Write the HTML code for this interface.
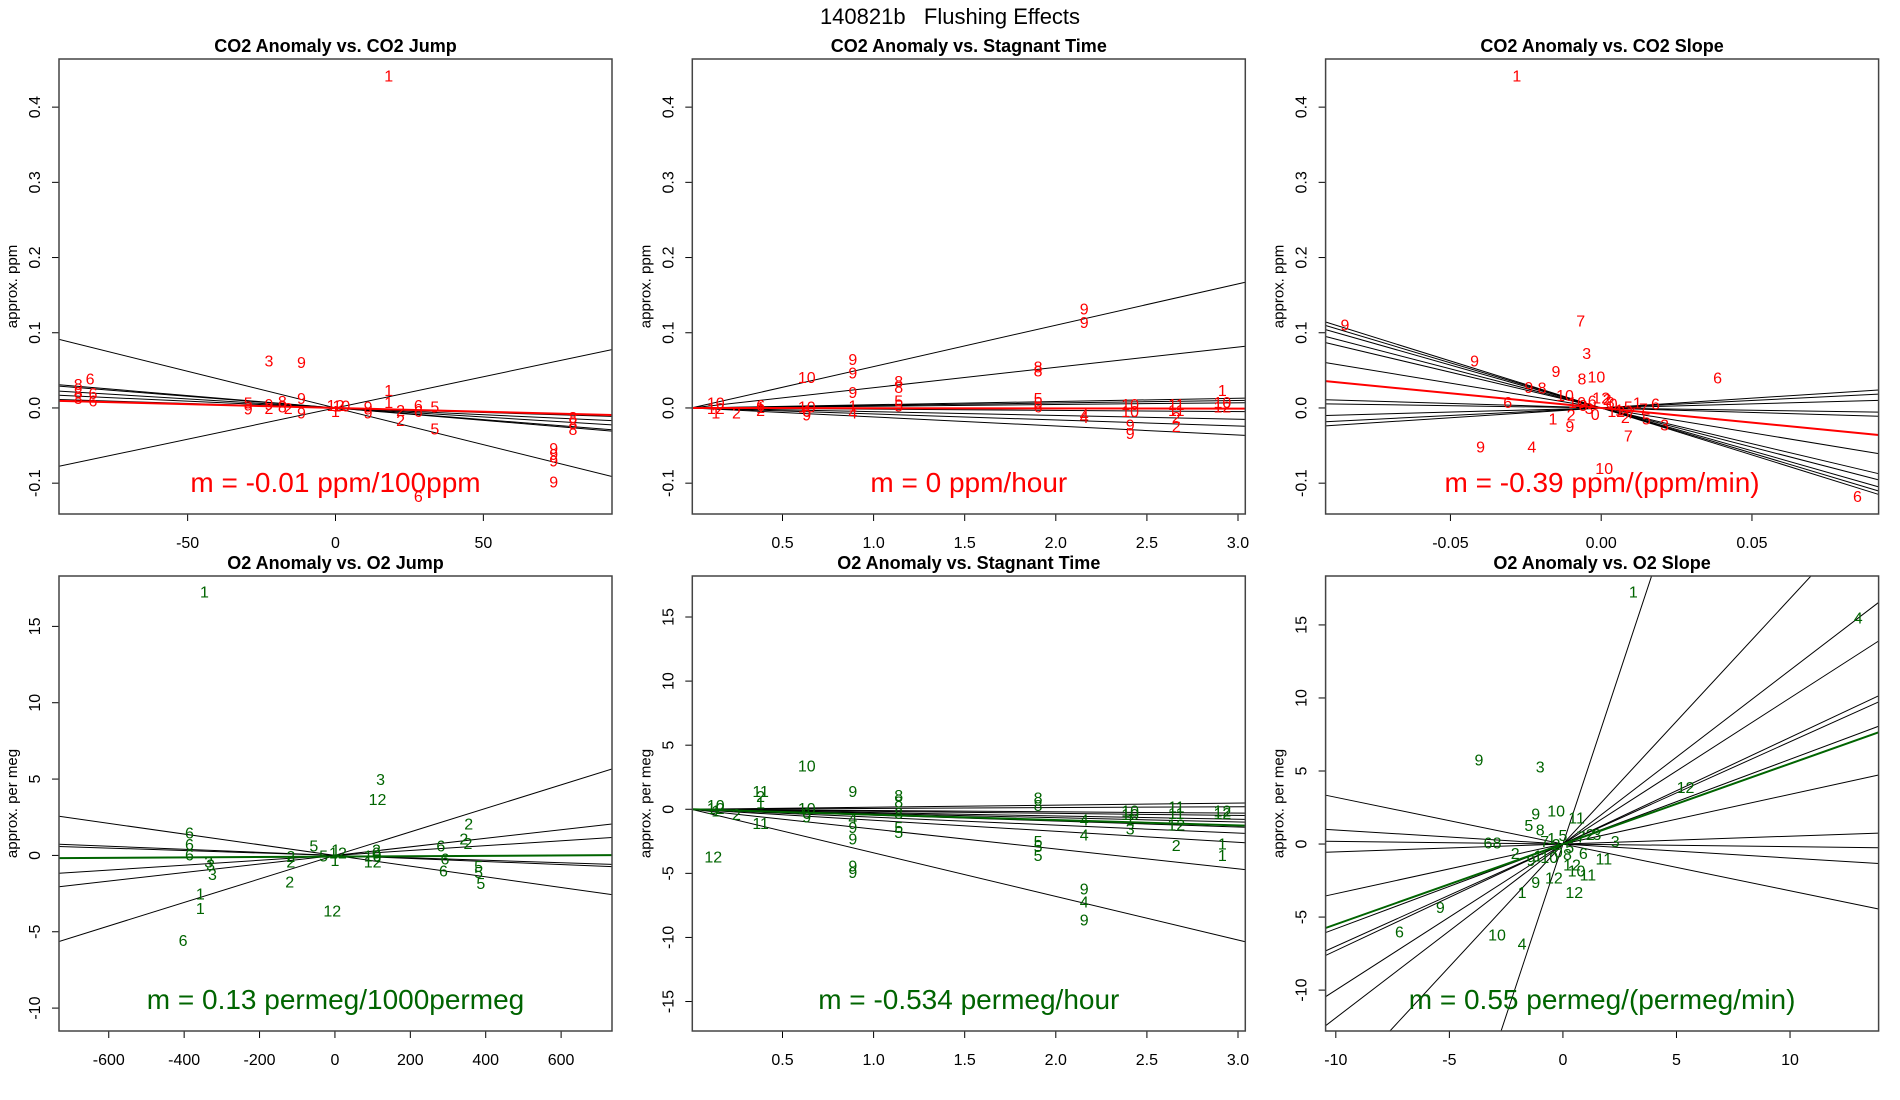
<!DOCTYPE html>
<html><head><meta charset="utf-8"><style>
html,body{margin:0;padding:0;background:#fff;width:1900px;height:1100px;overflow:hidden;}
svg{display:block;font-family:"Liberation Sans",sans-serif;}
</style></head><body>
<svg id="fig" width="1900" height="1100" xmlns="http://www.w3.org/2000/svg">
<text x="950" y="24" text-anchor="middle" font-size="22">140821b&#160;&#160;&#160;Flushing Effects</text>
</svg>
<script>
// ---- Panel 1: CO2 anomaly vs CO2 jump
const p1Lab=["1","3","9","6","8","8","8","6","6","5","9","9","2","8","8","2","9","9","12","1","9","9","1","1","2","2","6","6","5","5","9","9","9","9","8","8","8","6","10"];
const p1X=[18,-22.5,-11.5,-83,-87,-87,-87,-82,-82,-29.5,-29.5,-22.5,-22.5,-18,-18,-16,-11.5,-11.5,0,0,11,11,18,18,22,22,28,28,33.6,33.6,73.8,73.8,73.8,73.8,80.3,80.3,80.3,28,2];
const p1Y=[0.44,0.061,0.059,0.037,0.030,0.019,0.011,0.018,0.008,0.005,-0.003,0.003,-0.002,0.007,0,-0.002,0.011,-0.008,0.002,-0.006,0,-0.008,0.022,0.006,-0.005,-0.018,0.002,-0.006,0,-0.029,-0.055,-0.063,-0.072,-0.1,-0.014,-0.022,-0.030,-0.119,0.001];
const p1Slopes=[-0.000975,0.00083,-0.00033,-0.00031,-0.00024,-0.00018,-0.00012];
const p1Fit=[-0.0001,0];
// ---- Panel 2: CO2 anomaly vs stagnant time
const p2Lab=["10","12","1","2","6","1","2","10","10","6","9","9","9","9","1","4","8","8","5","5","8","8","5","5","6","9","9","4","4","10","10","9","9","11","11","2","2","1","10","12"];
const p2X=[0.134,0.134,0.134,0.247,0.38,0.38,0.38,0.633,0.633,0.633,0.633,0.886,0.886,0.886,0.886,0.886,1.138,1.138,1.138,1.138,1.903,1.903,1.903,1.903,1.903,2.156,2.156,2.156,2.156,2.408,2.408,2.408,2.408,2.661,2.661,2.661,2.661,2.914,2.914,2.914];
const p2Y=[0.005,-0.002,-0.008,-0.008,0.002,-0.001,-0.005,0.039,0,-0.006,-0.011,0.063,0.045,0.019,0.001,-0.008,0.034,0.026,0.008,0.001,0.053,0.048,0.011,0.005,0,0.130,0.112,-0.011,-0.014,0.003,-0.006,-0.024,-0.035,0.003,-0.005,-0.014,-0.026,0.022,0.006,0];
const p2Slopes=[0.055,0.027,0.0043,0.0033,0.0023,-0.0016,-0.005,-0.008,-0.012];
const p2Fit=[-0.0003,0];
// ---- Panel 3: CO2 anomaly vs CO2 slope
const p3Lab=["1","7","3","9","9","10","8","9","9","8","6","6","9","4","10","7","9","1","6","5","3","2","0","1","6","7","8","10","12","2","0","1","6","12","10","2","7","8","3","5"];
const p3X=[-0.028,-0.0068,-0.0048,-0.085,-0.042,-0.0016,-0.0064,-0.015,-0.024,-0.0196,0.0386,-0.031,-0.040,-0.023,0.001,0.009,-0.0104,-0.016,0.085,0.015,0.021,0.002,0.004,0.006,-0.003,0.010,-0.006,-0.008,0.005,0.008,-0.002,0.012,0.018,0.000,-0.012,-0.010,0.014,0.003,-0.004,0.009];
const p3Y=[0.44,0.114,0.071,0.109,0.061,0.040,0.037,0.047,0.026,0.025,0.0385,0.006,-0.053,-0.053,-0.082,-0.0385,-0.026,-0.016,-0.119,-0.016,-0.024,0.010,0.004,-0.004,0.008,-0.008,0.002,0.006,-0.006,-0.014,-0.010,0.005,0.004,0.012,0.015,-0.011,-0.003,0.006,-0.002,0.0];
const p3Slopes=[-1.25,-1.2,-1.14,-1.04,-0.95,-0.66,-0.12,0.11,0.2,0.26,-0.06];
const p3Fit=[-0.39,0];
// ---- Panel 4: O2 anomaly vs O2 jump
const p4Lab=["1","3","12","2","2","2","6","6","6","5","5","5","6","6","6","3","3","3","1","1","6","2","2","2","12","5","5","1","12","1","0","2","12","10"];
const p4X=[-346,121,113,355,342,353,281,292,288,381,381,387,-386,-386,-386,-335,-330,-325,-357,-357,-403,-117,-117,-120,-7,-56,-30,2,8,0,110,110,100,100];
const p4Y=[17.2,4.9,3.6,2.0,1.0,0.7,0.55,-0.3,-1.1,-0.8,-1.2,-1.9,1.4,0.65,-0.05,-0.5,-0.7,-1.3,-2.6,-3.55,-5.65,-0.15,-0.5,-1.8,-3.7,0.55,-0.1,0.3,0.1,-0.4,0.1,0.3,-0.5,-0.1];
const p4Slopes=[0.0077,-0.0035,0.0028,0.0016,-0.001,-0.0008];
const p4Fit=[0.00013,-0.08];
// ---- Panel 5: O2 anomaly vs stagnant time
const p5Lab=["10","12","1","2","12","11","2","1","11","10","10","6","9","9","4","9","9","9","9","8","8","8","5","5","8","8","5","5","5","4","4","9","4","9","10","10","1","3","11","11","12","2","12","12","1","1"];
const p5X=[0.134,0.134,0.134,0.247,0.12,0.38,0.38,0.38,0.38,0.633,0.633,0.633,0.633,0.886,0.886,0.886,0.886,0.886,0.886,1.138,1.138,1.138,1.138,1.138,1.903,1.903,1.903,1.903,1.903,2.156,2.156,2.156,2.156,2.156,2.408,2.408,2.408,2.408,2.661,2.661,2.661,2.661,2.914,2.914,2.914,2.914];
const p5Y=[0.2,0,-0.2,-0.5,-3.8,1.3,0.9,0.4,-1.2,3.3,0,-0.4,-0.7,1.3,-0.8,-1.5,-2.4,-4.5,-5.0,1.0,0.5,-0.4,-1.5,-1.9,0.8,0.2,-2.6,-3.0,-3.7,-0.9,-2.1,-6.3,-7.3,-8.7,-0.2,-0.5,-0.9,-1.6,0.1,-0.4,-1.3,-2.9,-0.2,-0.4,-2.8,-3.7];
const p5Slopes=[0.16,0.066,-0.1,-0.16,-0.26,-0.33,-0.46,-0.62,-0.86,-1.55,-3.4];
const p5Fit=[-0.42,0];
// ---- Panel 6: O2 anomaly vs O2 slope
const p6Lab=["1","4","9","3","12","10","9","11","6","8","5","8","9","6","10","4","1","9","12","12","10","11","11","2","3","7","1","5","7","8","0","6","2","9","10","12","3","1","5","2"];
const p6X=[3.1,13,-3.7,-1.0,5.4,-0.3,-1.2,0.6,-3.3,-2.9,-1.5,-1.0,-5.4,-7.2,-2.9,-1.8,-1.8,-1.2,-0.4,0.5,0.6,1.1,1.8,-2.1,1.5,-0.8,-0.5,0.3,0.8,0.2,-0.2,0.9,1.2,-1.4,-0.6,0.4,2.3,-1.1,0.0,-0.3];
const p6Y=[17.2,15.4,5.7,5.2,3.8,2.2,2.0,1.7,0,0,1.2,0.9,-4.4,-6.1,-6.3,-6.9,-3.4,-2.7,-2.4,-3.4,-1.9,-2.2,-1.1,-0.7,0.6,0.1,0.3,-0.3,0.4,-0.8,-0.6,-0.7,0.6,-1.2,-1.0,-1.5,0.1,-0.9,0.5,-0.1];
const p6Slopes=[4.7,1.68,1.19,1.0,0.73,0.70,0.58,0.55,0.34,0.054,-0.018,-0.096,-0.32];
const p6Fit=[0.55,0];

const RED="#ff0000", GRN="#006400";
const panels=[
 {name:"co2-jump",title:"CO2 Anomaly vs. CO2 Jump",ylab:"approx. ppm",col:0,row:0,xl:[-93.5,93.5],yl:[-0.141,0.464],xt:[-50,0,50],yt:[-0.1,0,0.1,0.2,0.3,0.4],yfmt:v=>v.toFixed(1),lab:p1Lab,x:p1X,y:p1Y,sl:p1Slopes,fit:p1Fit,c:RED,ann:"m = -0.01 ppm/100ppm"},
 {name:"co2-stagnant",title:"CO2 Anomaly vs. Stagnant Time",ylab:"approx. ppm",col:1,row:0,xl:[0.005,3.04],yl:[-0.141,0.464],xt:[0.5,1,1.5,2,2.5,3],xfmt:v=>v.toFixed(1),yt:[-0.1,0,0.1,0.2,0.3,0.4],yfmt:v=>v.toFixed(1),lab:p2Lab,x:p2X,y:p2Y,sl:p2Slopes,fit:p2Fit,c:RED,ann:"m = 0 ppm/hour"},
 {name:"co2-slope",title:"CO2 Anomaly vs. CO2 Slope",ylab:"approx. ppm",col:2,row:0,xl:[-0.0914,0.092],yl:[-0.141,0.464],xt:[-0.05,0,0.05],xfmt:v=>v==0?"0.00":v.toFixed(2),yt:[-0.1,0,0.1,0.2,0.3,0.4],yfmt:v=>v.toFixed(1),lab:p3Lab,x:p3X,y:p3Y,sl:p3Slopes,fit:p3Fit,c:RED,ann:"m = -0.39 ppm/(ppm/min)"},
 {name:"o2-jump",title:"O2 Anomaly vs. O2 Jump",ylab:"approx. per meg",col:0,row:1,xl:[-732,735],yl:[-11.5,18.3],xt:[-600,-400,-200,0,200,400,600],yt:[-10,-5,0,5,10,15],lab:p4Lab,x:p4X,y:p4Y,sl:p4Slopes,fit:p4Fit,c:GRN,ann:"m = 0.13 permeg/1000permeg"},
 {name:"o2-stagnant",title:"O2 Anomaly vs. Stagnant Time",ylab:"approx. per meg",col:1,row:1,xl:[0.005,3.04],yl:[-17.3,18.2],xt:[0.5,1,1.5,2,2.5,3],xfmt:v=>v.toFixed(1),yt:[-15,-10,-5,0,5,10,15],lab:p5Lab,x:p5X,y:p5Y,sl:p5Slopes,fit:p5Fit,c:GRN,ann:"m = -0.534 permeg/hour"},
 {name:"o2-slope",title:"O2 Anomaly vs. O2 Slope",ylab:"approx. per meg",col:2,row:1,xl:[-10.45,13.9],yl:[-12.8,18.35],xt:[-10,-5,0,5,10],yt:[-10,-5,0,5,10,15],lab:p6Lab,x:p6X,y:p6Y,sl:p6Slopes,fit:p6Fit,c:GRN,ann:"m = 0.55 permeg/(permeg/min)"}
];
const NS="http://www.w3.org/2000/svg";
const svg=document.getElementById('fig');
function mk(tag,attrs,parent){const e=document.createElementNS(NS,tag);for(const k in attrs)e.setAttribute(k,attrs[k]);parent.appendChild(e);return e;}
panels.forEach((p,i)=>{
 const L=59+p.col*633.3, T=p.row===0?59:576, W=553, H=455;
 const sx=v=>L+(v-p.xl[0])/(p.xl[1]-p.xl[0])*W;
 const sy=v=>T+H-(v-p.yl[0])/(p.yl[1]-p.yl[0])*H;
 const g=mk('g',{},svg);
 
 
 const cp=mk('clipPath',{id:'cp'+i},g);
 mk('rect',{x:L,y:T,width:W,height:H},cp);
 const t=mk('text',{x:L+W/2,y:T-7,'text-anchor':'middle','font-size':18,'font-weight':'bold'},g);
 t.textContent=p.title;
 
 
 const yl=mk('text',{transform:`translate(${L-42},${T+H/2}) rotate(-90)`,'text-anchor':'middle','font-size':15},g);
 yl.textContent=p.ylab;
 
 
 p.xt.forEach(v=>{
  const x=sx(v);
  mk('line',{x1:x,x2:x,y1:T+H,y2:T+H+7,stroke:'#000'},g);
  const tx=mk('text',{x:x,y:T+H+34,'text-anchor':'middle','font-size':16},g);
  tx.textContent=p.xfmt?p.xfmt(v):String(v);
  
  
 });
 p.yt.forEach(v=>{
  const y=sy(v);
  mk('line',{x1:L-7,x2:L,y1:y,y2:y,stroke:'#000'},g);
  const ty=mk('text',{transform:`translate(${L-19},${y}) rotate(-90)`,'text-anchor':'middle','font-size':16},g);
  ty.textContent=p.yfmt?p.yfmt(v):String(v);
  
  
 });
 const lg=mk('g',{'clip-path':`url(#cp${i})`},g);
 p.sl.forEach(m=>{
  const ln=mk('line',{x1:sx(p.xl[0]),y1:sy(m*p.xl[0]),x2:sx(p.xl[1]),y2:sy(m*p.xl[1]),stroke:'#000','stroke-width':1},lg);
  
  
 });
 const f=mk('line',{x1:sx(p.xl[0]),y1:sy(p.fit[0]*p.xl[0]+p.fit[1]),x2:sx(p.xl[1]),y2:sy(p.fit[0]*p.xl[1]+p.fit[1]),stroke:p.c,'stroke-width':2},lg);
 
 
 p.lab.forEach((s,j)=>{
  const pt=mk('text',{x:sx(p.x[j]),y:sy(p.y[j]),'text-anchor':'middle','dominant-baseline':'central','font-size':16,fill:p.c},lg);
  pt.textContent=s;
  
  
 });
 const a=mk('text',{x:L+W/2,y:T+H-22,'text-anchor':'middle','font-size':28,fill:p.c},g);
 a.textContent=p.ann;
 
 
 const b=mk('rect',{x:L,y:T,width:W,height:H,fill:'none',stroke:'#444','stroke-width':1.5},g);
 
 
});
</script>
</body></html>
